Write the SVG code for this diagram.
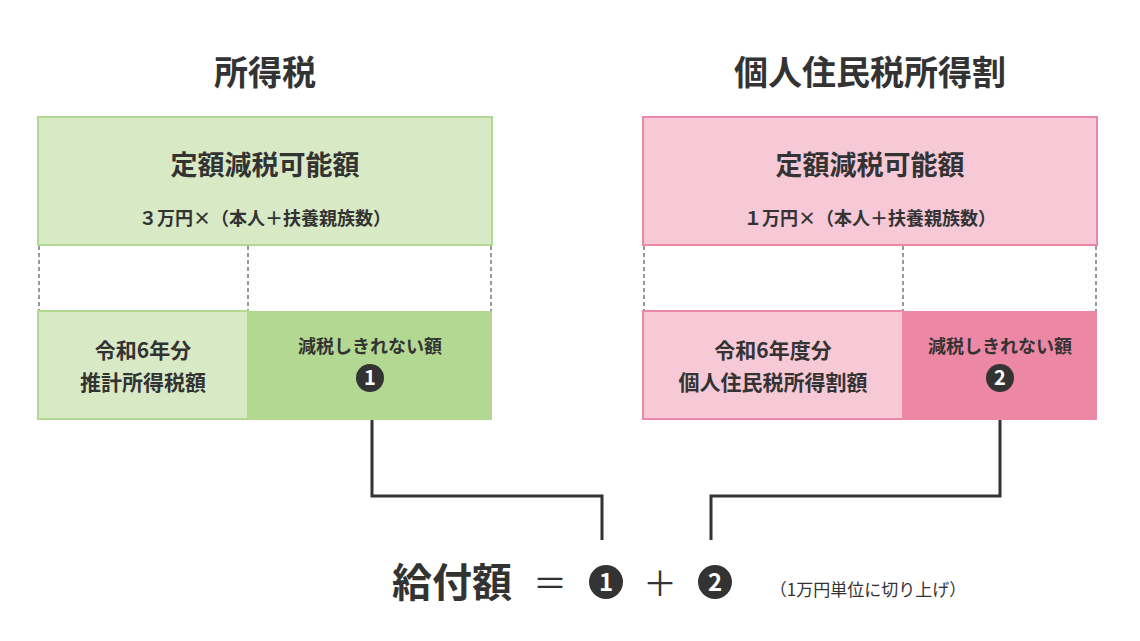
<svg xmlns="http://www.w3.org/2000/svg" width="1140" height="641" viewBox="0 0 1140 641">
<style>
text{font-family:"Noto Sans CJK JP","Noto Sans",sans-serif;fill:#333;font-weight:bold;text-anchor:middle}
.h{font-size:34px}
.t{font-size:27px}
.s{font-size:18px}
.m{font-size:21px}
.dash{stroke:#333;stroke-width:1;stroke-dasharray:4 3;fill:none}
.conn{stroke:#333;stroke-width:3;fill:none}
.num{fill:#fff;font-size:20px}
</style>
<rect width="1140" height="641" fill="#fff"/>
<g id="title-left"><text class="h" x="265" y="85">所得税</text></g>
<g id="title-right"><text class="h" x="870" y="85">個人住民税所得割</text></g>
<g id="left-top">
<rect x="38" y="117" width="454" height="128" fill="#d8eac5" stroke="#b3d892" stroke-width="2"/>
<text class="t" x="265" y="175">定額減税可能額</text>
<text class="s" x="265" y="225">３万円×（本人＋扶養親族数）</text>
</g>
<g id="left-dash"><path class="dash" d="M39 246V311M248 246V311M491 246V311"/></g>
<g id="left-a">
<rect x="38" y="311" width="210" height="108" fill="#d8eac5" stroke="#b3d892" stroke-width="2"/>
<text class="m" x="143" y="358">令和6年分</text>
<text class="m" x="143" y="390">推計所得税額</text>
</g>
<g id="left-b">
<rect x="248" y="311" width="244" height="109" fill="#b3d892"/>
<text class="s" x="370" y="353">減税しきれない額</text>
<circle cx="370" cy="378" r="14" fill="#333"/><text class="num" x="370" y="385">1</text>
</g>
<g id="right-top">
<rect x="643" y="117" width="454" height="128" fill="#f7c9d7" stroke="#ec87a5" stroke-width="2"/>
<text class="t" x="870" y="175">定額減税可能額</text>
<text class="s" x="870" y="225">１万円×（本人＋扶養親族数）</text>
</g>
<g id="right-dash"><path class="dash" d="M644 246V311M903 246V311M1096 246V311"/></g>
<g id="right-a">
<rect x="643" y="311" width="260" height="108" fill="#f7c9d7" stroke="#ec87a5" stroke-width="2"/>
<text class="m" x="773" y="358">令和6年度分</text>
<text class="m" x="773" y="390">個人住民税所得割額</text>
</g>
<g id="right-b">
<rect x="903" y="311" width="194" height="109" fill="#ec87a5"/>
<text class="s" x="1000" y="353">減税しきれない額</text>
<circle cx="1000" cy="378" r="14" fill="#333"/><text class="num" x="1000" y="385">2</text>
</g>
<g id="connectors">
<path class="conn" d="M372 420V496H602V540"/>
<path class="conn" d="M1000 420V496H711V540"/>
</g>
<g id="formula">
<text x="452" y="597" style="font-size:40px">給付額</text>
<text x="550" y="596" style="font-size:34px;font-weight:normal">＝</text>
<circle cx="606" cy="582" r="17" fill="#333"/><text class="num" x="606" y="591" style="font-size:24px">1</text>
<text x="660" y="596" style="font-size:34px;font-weight:normal">＋</text>
<circle cx="715" cy="582" r="17" fill="#333"/><text class="num" x="715" y="591" style="font-size:24px">2</text>
<text x="868" y="596" style="font-size:17px;font-weight:normal">（1万円単位に切り上げ）</text>
</g>
</svg>
